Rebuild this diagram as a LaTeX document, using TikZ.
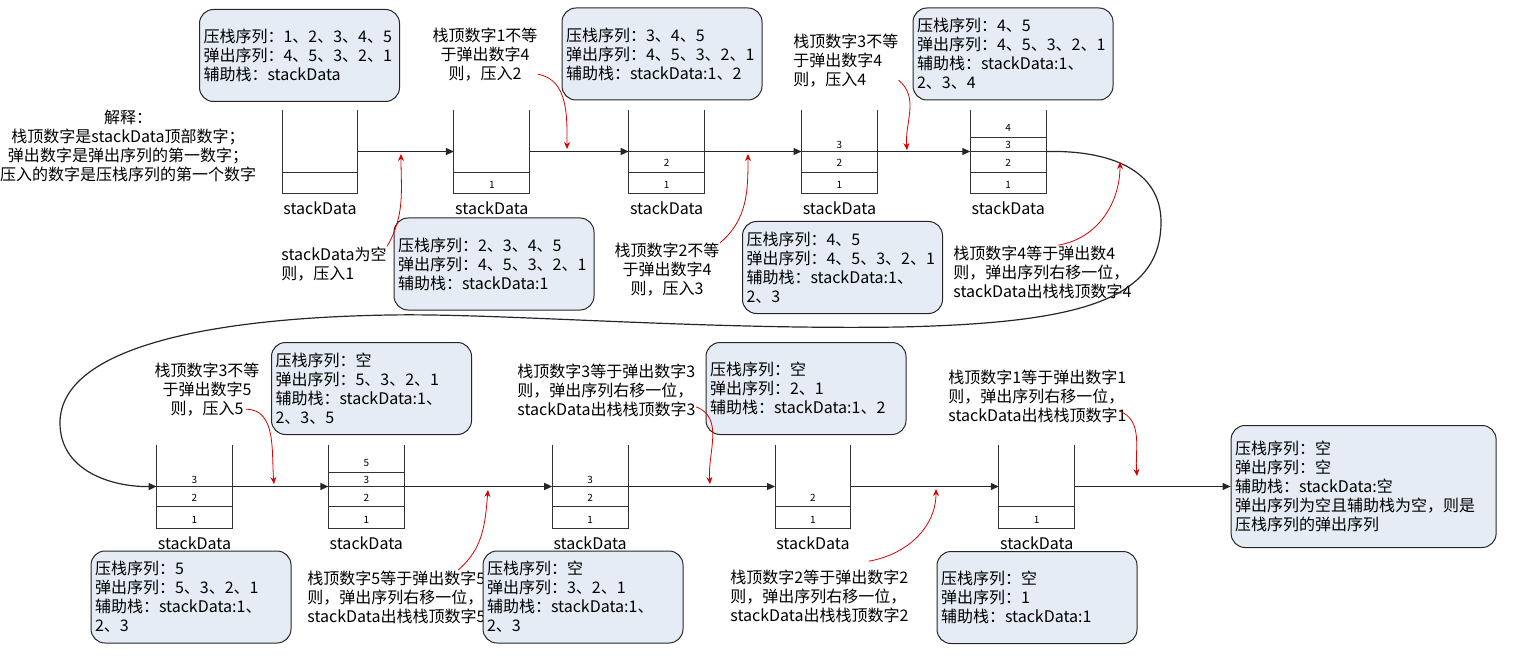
\documentclass[tikz,border=0pt]{standalone}
\usepackage{fontspec}
\setmainfont{Noto Sans CJK SC}
\usepackage{xcolor}
\usetikzlibrary{arrows.meta,calc,positioning}
\definecolor{boxfill}{RGB}{230,236,245}

\begin{document}
\begin{tikzpicture}[x=0.5pt,y=-0.5pt,font=\fontsize{8}{9.5}\selectfont,
  stack/.style={minimum width=37.5pt,minimum height=41.5pt,inner sep=0pt},
  wall/.style={draw=black!80,line width=0.5pt},
  num/.style={font=\fontsize{5}{6}\selectfont,inner sep=0pt},
  info/.style={draw=black!85,fill=boxfill,rounded corners=7pt,line width=0.5pt,align=left,text width=96pt,inner xsep=2pt,inner ysep=0pt,minimum height=46pt},
  note/.style={inner sep=0pt},
  flow/.style={-{Triangle[length=4pt,width=3.5pt]},draw=black!85,line width=0.6pt},
  hint/.style={-{Stealth[length=3.5pt,width=3pt]},draw=red!85!black,line width=0.4pt}]
\useasboundingbox (0,0) rectangle (1524,668);

\node[stack] (s1) at (320,151.5) {};
\node[stack,right=48pt of s1] (s2) {};
\node[stack,right=49.5pt of s2] (s3) {};
\node[stack,right=48.5pt of s3] (s4) {};
\node[stack,right=46.5pt of s4] (s5) {};
\node[stack] (s6) at (194.5,486.5) {};
\node[stack,right=48pt of s6] (s7) {};
\node[stack,right=74pt of s7] (s8) {};
\node[stack,right=73.5pt of s8] (s9) {};
\node[stack,right=74pt of s9] (s10) {};

\foreach \i in {1,...,10} {
  \draw[wall] (s\i.north west) |- (s\i.south east) -- (s\i.north east);
  \node (d\i) at ($(s\i.south)+(0,15)$) {stackData};
}
\foreach \i/\h in {1/21,2/21,3/21,3/41.5,4/21,4/41.5,5/21,5/41.5,5/55.5,6/22,6/41.5,7/22,7/41.5,7/56,8/22,8/41.5,9/22,10/22}
  \draw[wall] ($(s\i.south west)+(0,-\h)$) -- ($(s\i.south east)+(0,-\h)$);
\foreach \i/\v/\h in {2/1/8,3/1/8,3/2/30.5,4/1/8,4/2/30.5,4/3/48,5/1/8,5/2/30.5,5/3/48,5/4/65,6/1/8,6/2/30.5,6/3/48,7/1/8,7/2/30.5,7/3/48,7/5/65,8/1/8,8/2/30.5,8/3/48,9/1/8,9/2/30.5,10/1/8}
  \node[num] (n\i-\v) at ($(s\i.south)+(0,-\h)$) {\v};

\node[note,align=center] (a0) at (128,146) {解释：\\栈顶数字是stackData顶部数字；\\弹出数字是弹出序列的第一数字；\\压入的数字是压栈序列的第一个数字};
\node[note,align=left,anchor=west] (a1) at (281,264) {stackData为空\\则，压入1};
\node[note,align=center] (a2) at (485,55) {栈顶数字1不等\\于弹出数字4\\则，压入2};
\node[note,align=center] (a3) at (667,270) {栈顶数字2不等\\于弹出数字4\\则，压入3};
\node[note,align=left,anchor=west] (a4) at (793,61) {栈顶数字3不等\\于弹出数字4\\则，压入4};
\node[note,align=left,anchor=west] (a5) at (953,272) {栈顶数字4等于弹出数4\\则，弹出序列右移一位，\\stackData出栈栈顶数字4};
\node[note,align=center] (a6) at (207,390) {栈顶数字3不等\\于弹出数字5\\则，压入5};
\node[note,align=left,anchor=west] (a7) at (307,597) {栈顶数字5等于弹出数字5\\则，弹出序列右移一位，\\stackData出栈栈顶数字5};
\node[note,align=left,anchor=west] (a8) at (517,390) {栈顶数字3等于弹出数字3\\则，弹出序列右移一位，\\stackData出栈栈顶数字3};
\node[note,align=left,anchor=west] (a9) at (730,596) {栈顶数字2等于弹出数字2\\则，弹出序列右移一位，\\stackData出栈栈顶数字2};
\node[note,align=left,anchor=west] (a10) at (948,396) {栈顶数字1等于弹出数字1\\则，弹出序列右移一位，\\stackData出栈栈顶数字1};

\node[info] (b1) at (299.5,55.5) {压栈序列：1、2、3、4、5\\弹出序列：4、5、3、2、1\\辅助栈：stackData};
\node[info] (b2) at (662,54) {压栈序列：3、4、5\\弹出序列：4、5、3、2、1\\辅助栈：stackData:1、2};
\node[info] (b3) at (1013,54) {压栈序列：4、5\\弹出序列：4、5、3、2、1\\辅助栈：stackData:1、\\2、3、4};
\node[info] (b4) at (494,264) {压栈序列：2、3、4、5\\弹出序列：4、5、3、2、1\\辅助栈：stackData:1};
\node[info] (b5) at (842.5,267.5) {压栈序列：4、5\\弹出序列：4、5、3、2、1\\辅助栈：stackData:1、\\2、3};
\node[info] (b6) at (371.5,388.5) {压栈序列：空\\弹出序列：5、3、2、1\\辅助栈：stackData:1、\\2、3、5};
\node[info] (b7) at (191,597) {压栈序列：5\\弹出序列：5、3、2、1\\辅助栈：stackData:1、\\2、3};
\node[info] (b8) at (583,597) {压栈序列：空\\弹出序列：3、2、1\\辅助栈：stackData:1、\\2、3};
\node[info] (b9) at (806,388.5) {压栈序列：空\\弹出序列：2、1\\辅助栈：stackData:1、2};
\node[info] (b10) at (1037,597.5) {压栈序列：空\\弹出序列：1\\辅助栈：stackData:1};
\node[info,text width=128.5pt,minimum height=61pt,right=78pt of s10] (b11) {压栈序列：空\\弹出序列：空\\辅助栈：stackData:空\\弹出序列为空且辅助栈为空，则是\\压栈序列的弹出序列};

\draw[flow] (s1.east) -- (s2.west);
\draw[flow] (s2.east) -- (s3.west);
\draw[flow] (s3.east) -- (s4.west);
\draw[flow] (s4.east) -- (s5.west);
\draw[flow] (s5.east) .. controls (1110,150) and (1161,170) .. (1161,222) .. controls (1161,300) and (1080,323) .. (900,327) .. controls (700,330) and (500,313) .. (390,315) .. controls (200,318) and (60,350) .. (60,423) .. controls (60,470) and (110,487) .. (s6.west);
\draw[flow] (s6.east) -- (s7.west);
\draw[flow] (s7.east) -- (s8.west);
\draw[flow] (s8.east) -- (s9.west);
\draw[flow] (s9.east) -- (s10.west);
\draw[flow] (s10.east) -- (b11.west);

\coordinate (t1) at (401,154);
\coordinate (t2) at (567,149);
\coordinate (t3) at (748,154);
\coordinate (t4) at (907,150);
\coordinate (t5) at (1120,162);
\coordinate (t6) at (274,484);
\coordinate (t7) at (488,490);
\coordinate (t8) at (710,484);
\coordinate (t9) at (936,489);
\coordinate (t10) at (1137,476);
\draw[hint] (a1.north east) to[out=60,in=-90] (t1);
\draw[hint] (a2.-20) to[out=-10,in=90] (t2);
\draw[hint] (a3.north east) to[out=40,in=-90] (t3);
\draw[hint] (a4.-20) to[out=-40,in=95] (t4);
\draw[hint] ([xshift=8pt]a5.north) to[out=10,in=-90] (t5);
\draw[hint] ([xshift=-7pt]a6.-20) to[out=0,in=95] (t6);
\draw[hint] ([xshift=-14pt]a7.north east) to[out=40,in=-95] (t7);
\draw[hint] ([yshift=5pt]a8.south east) to[out=-20,in=95] (t8);
\draw[hint] ([xshift=-20pt,yshift=4pt]a9.north east) to[out=10,in=-90] (t9);
\draw[hint] ([xshift=-4pt,yshift=6pt]a10.south east) to[out=-20,in=95] (t10);
\end{tikzpicture}
\end{document}
